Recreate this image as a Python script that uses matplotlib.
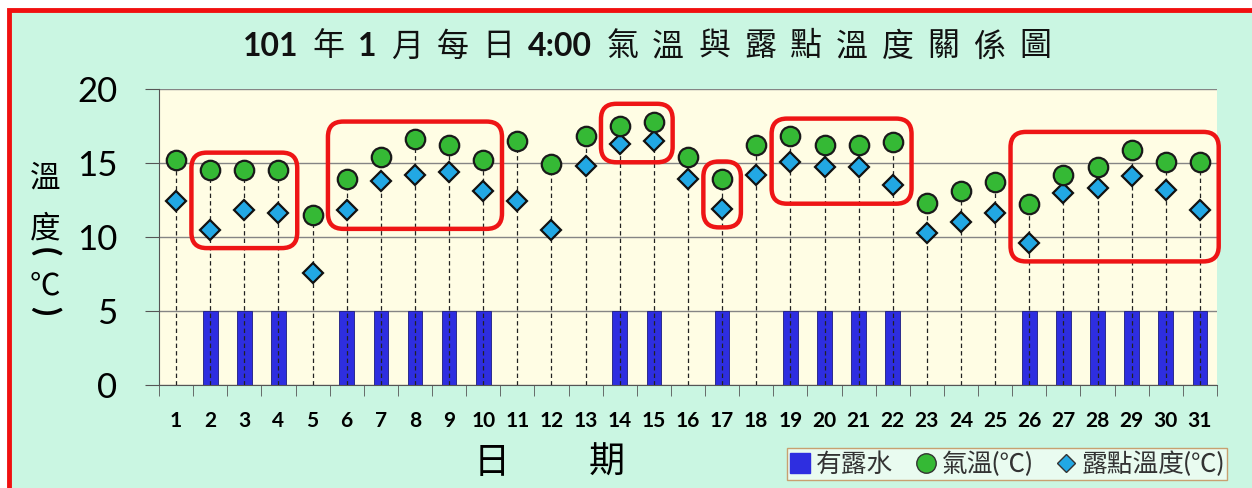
import matplotlib.pyplot as plt
from matplotlib.patches import FancyBboxPatch, Rectangle
from matplotlib.lines import Line2D

plt.rcParams['font.family'] = ['Lato', 'Noto Sans CJK TC', 'DejaVu Sans']

# 每日 4:00 觀測資料
days = list(range(1, 32))
temp = [15.2, 14.5, 14.5, 14.5, 11.5, 13.9, 15.4, 16.6, 16.2, 15.2,
        16.5, 14.9, 16.8, 17.5, 17.8, 15.4, 13.9, 16.2, 16.8, 16.2,
        16.2, 16.4, 12.3, 13.1, 13.7, 12.2, 14.2, 14.7, 15.9, 15.1, 15.1]
dew_point = [12.4, 10.5, 11.8, 11.6, 7.6, 11.8, 13.8, 14.2, 14.4, 13.1,
             12.4, 10.5, 14.8, 16.3, 16.5, 13.9, 11.9, 14.2, 15.1, 14.7,
             14.7, 13.5, 10.3, 11.0, 11.6, 9.6, 13.0, 13.3, 14.1, 13.2, 11.8]
# 有露水的日子畫 5 的長條
dew_water = [0, 5, 5, 5, 0, 5, 5, 5, 5, 5, 0, 0, 0, 5, 5, 0,
             5, 0, 5, 5, 5, 5, 0, 0, 0, 5, 5, 5, 5, 5, 5]
boxed_groups = [(2, 4), (6, 10), (14, 15), (17, 17), (19, 22), (26, 31)]
y_ticks = [0, 5, 10, 15, 20]
title_parts = [('101', 'bold'), ('年', 'normal'), ('1', 'bold'), ('月', 'normal'),
               ('每', 'normal'), ('日', 'normal'), ('4:00', 'bold'),
               ('氣', 'normal'), ('溫', 'normal'), ('與', 'normal'), ('露', 'normal'),
               ('點', 'normal'), ('溫', 'normal'), ('度', 'normal'), ('關', 'normal'),
               ('係', 'normal'), ('圖', 'normal')]
legend_labels = ['有露水', '氣溫(℃)', '露點溫度(℃)']

BLUE = '#2E2EE0'
GREEN = '#35B935'
SKY = '#22A8E4'
RED = '#EE1515'

W, H = 1252, 488
fig = plt.figure(figsize=(W / 100, H / 100), dpi=100, facecolor='white')
fig.add_artist(Rectangle((9 / W, -0.1), 1.2, 1 - 10 / H + 0.1, transform=fig.transFigure,
                         facecolor='#CAF6E2', edgecolor='#F01010', lw=3.5, zorder=-1))

ax_l, ax_r, ax_t, ax_b = 159, 1217, 89, 385
ax = fig.add_axes([ax_l / W, 1 - ax_b / H, (ax_r - ax_l) / W, (ax_b - ax_t) / H])
ax.set_facecolor('#FFFDE4')

ax.bar(days, dew_water, width=0.43, color=BLUE, edgecolor='#1C1C80', lw=0.6, zorder=2)
ax.vlines(days, 0, temp, colors='#222222', linestyles=(0, (3.5, 2.5)), lw=0.9, zorder=3)
ax.plot(days, dew_point, ls='none', marker='D', ms=10, mfc=SKY, mec='#111111', mew=1.6, zorder=5)
ax.plot(days, temp, ls='none', marker='o', ms=14, mfc=GREEN, mec='#1A1A1A', mew=1.6, zorder=6)

ax.set_xlim(0.5, 31.5)
ax.set_ylim(0, 20)
ax.set_yticks(y_ticks)
ax.yaxis.grid(True, color='#858585', lw=1)
ax.set_axisbelow(True)
for s in ['top', 'right']:
    ax.spines[s].set_visible(False)
for s in ['left', 'bottom']:
    ax.spines[s].set_color('#555555')

ax.set_xticks(days)
ax.set_xticks([d - 0.5 for d in days] + [31.5], minor=True)
ax.tick_params(axis='x', which='major', length=0, pad=19, labelsize=15)
ax.tick_params(axis='x', which='minor', length=8, color='#555555')
ax.tick_params(axis='y', length=10, pad=20, labelsize=25, color='#555555')
for lbl in ax.get_xticklabels():
    lbl.set_fontweight('bold')

# 紅色圓角框
aspect = ((ax_r - ax_l) / 31) / ((ax_b - ax_t) / 20)
for first, last in boxed_groups:
    x0, x1 = first - 0.55, last + 0.55
    y0 = min(dew_point[first - 1:last]) - 1.25
    y1 = max(temp[first - 1:last]) + 1.2
    ax.add_patch(FancyBboxPatch((x0, y0), x1 - x0, y1 - y0,
                                boxstyle='round,pad=0,rounding_size=0.45',
                                mutation_aspect=aspect, fc='none', ec=RED,
                                lw=3.2, zorder=7, clip_on=False))

# 標題
prev = fig.text(243 / W, 1 - 47 / H, title_parts[0][0], fontsize=23,
                fontweight=title_parts[0][1], ha='left', va='center', color='#111111')
for txt, wt in title_parts[1:]:
    prev = ax.annotate(txt, xy=(1, 0), xycoords=prev, xytext=(10, 0),
                       textcoords='offset points', ha='left', va='bottom',
                       fontsize=23, fontweight=wt, color='#111111')

# 縱軸標題
fig.text(45 / W, 1 - 178 / H, '溫', fontsize=22, ha='center', va='center')
fig.text(45 / W, 1 - 228 / H, '度', fontsize=22, ha='center', va='center')
fig.text(45 / W, 1 - 252 / H, '(', fontsize=24, fontweight='bold', rotation=-90,
         ha='center', va='center')
fig.text(45 / W, 1 - 285 / H, '℃', fontsize=22, ha='center', va='center')
fig.text(45 / W, 1 - 311 / H, ')', fontsize=24, fontweight='bold', rotation=-90,
         ha='center', va='center')

# 橫軸標題
fig.text(492 / W, 1 - 462 / H, '日', fontsize=26, ha='center', va='center')
fig.text(607 / W, 1 - 462 / H, '期', fontsize=26, ha='center', va='center')

handles = [
    Line2D([], [], ls='none', marker='s', ms=14, mfc=BLUE, mec=BLUE),
    Line2D([], [], ls='none', marker='o', ms=14, mfc=GREEN, mec='#333333', mew=1),
    Line2D([], [], ls='none', marker='D', ms=9, mfc=SKY, mec='#333333', mew=1),
]
leg = fig.legend(handles, legend_labels, loc='center', bbox_to_anchor=(1007 / W, 1 - 464 / H),
                 ncol=3, fontsize=18.5, frameon=True, fancybox=False, edgecolor='#C8A070',
                 facecolor='#E9FBF0', framealpha=1, handlelength=0.8, handletextpad=0.2,
                 columnspacing=0.9, borderpad=0.12, labelcolor='#333333')

fig.savefig('out.png', dpi=100)
